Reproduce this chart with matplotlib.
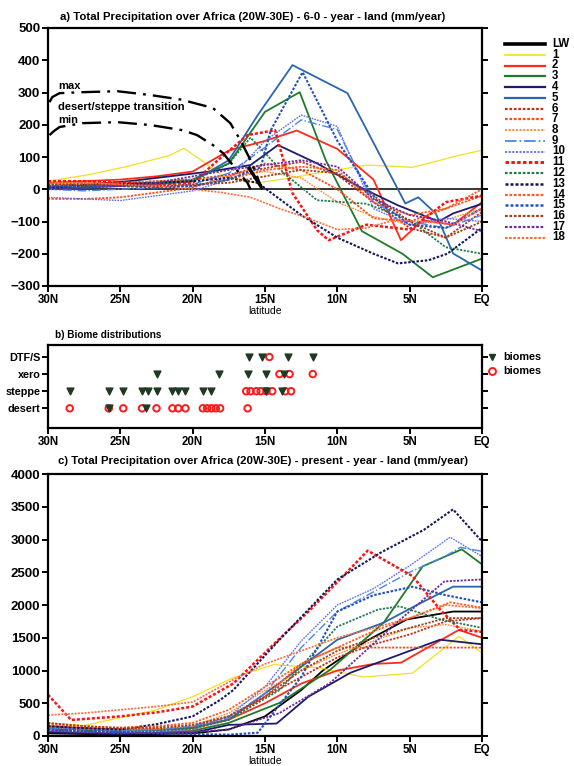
import numpy as np
import matplotlib
matplotlib.use("Agg")
import matplotlib.pyplot as plt
from matplotlib.lines import Line2D

plt.rcParams['font.family'] = ['Liberation Sans', 'DejaVu Sans']
plt.rcParams['font.weight'] = 'bold'

# ---------------- data ----------------
names = ['LW', '1', '2', '3', '4', '5', '6', '7', '8', '9',
         '10', '11', '12', '13', '14', '15', '16', '17', '18']
tick_pos = [30, 25, 20, 15, 10, 5, 0]
tick_lab = ['30N', '25N', '20N', '15N', '10N', '5N', 'EQ']

# a) 6-0 ka anomaly (mm/year), one lat list and one value list per model
anom_lats = [
    [16.1, 15.3],
    [30, 27.2, 24.4, 21.6, 20.6, 19.4, 17.9, 15.5, 13.2, 10.8, 7.9, 4.8, 1.5, 0],
    [30, 27.5, 25, 22.5, 20, 17.5, 15, 12.8, 10, 7.5, 5.6, 4.1, 2, 0],
    [30, 27.5, 25, 22.5, 20, 17.5, 15, 12.6, 10.8, 8.3, 5.5, 3.4, 0],
    [30, 27.2, 24.4, 21.6, 18.8, 16, 14.1, 11.4, 8.6, 5.8, 3, 2, 0],
    [30, 27.5, 25, 22.5, 20, 17.5, 15.5, 13.1, 9.3, 5.3, 4.4, 3.2, 2.0, 0],
    [30, 27.5, 25, 22.5, 20, 17.5, 15, 12.5, 10, 7.5, 5, 2.5, 0],
    [30, 27.5, 25, 22.5, 20, 17.5, 15, 12.5, 10, 7.5, 5, 2.5, 0],
    [30, 27.5, 25, 22.5, 20, 17.5, 15, 12.5, 10, 7.5, 5, 2.5, 0],
    [30, 27.5, 25, 22.5, 20, 17.5, 15, 12.5, 10, 7.5, 5, 2.5, 0],
    [30, 27.5, 25, 22.5, 20, 17.5, 15, 12.5, 10, 7.5, 5, 2.5, 0],
    [30, 27.5, 25, 22.5, 20, 18, 16.2, 14.3, 13.1, 11.4, 10.6, 8, 5, 2.5, 0],
    [30, 27.5, 25, 22.5, 20, 17.5, 16, 13.7, 11.4, 8, 5, 2.5, 0],
    [30, 27.5, 25, 22.5, 20, 17.5, 15.5, 12.5, 10, 7.5, 5.8, 3.7, 2.4, 0],
    [30, 27.5, 25, 22.5, 20, 17.5, 15, 12.5, 10, 7.5, 5, 2.5, 0],
    [30, 27.5, 25, 22.5, 20, 17.5, 15.3, 14.6, 12.4, 10, 7.3, 5, 2.5, 0],
    [30, 27.5, 25, 22.5, 20, 17.5, 15, 12.5, 10, 7.5, 5, 2.5, 0],
    [30, 27.5, 25, 22.5, 20, 17.5, 15, 12.5, 10, 7.5, 5, 2.5, 0],
    [30, 27.5, 25, 22.5, 20, 18, 16, 14, 12, 10, 8, 6, 4, 2, 0],
]
anom_vals = [
    [65, 10],
    [25, 45, 72, 105, 127, 90, 40, 20, 35, 55, 75, 68, 106, 121],
    [20, 25, 30, 40, 55, 120, 150, 182, 125, 30, -158, -96, -110, -40],
    [10, 12, 15, 20, 30, 80, 240, 301, 90, -130, -200, -273, -215],
    [10, 15, 25, 40, 55, 75, 137, 80, 10, -50, -100, -75, -45],
    [5, 5, 10, 15, 25, 90, 230, 385, 298, -44, -25, -75, -199, -252],
    [15, 15, 20, 25, 30, 45, 65, 85, 45, -40, -120, -150, -70],
    [-30, -30, -25, -10, 5, 40, 80, 60, 0, -90, -100, -60, -20],
    [10, 15, 20, 25, 30, 40, 55, 35, -40, -85, -110, -95, -60],
    [0, -5, 0, 5, 15, 50, 130, 215, 185, -40, -100, -120, -80],
    [-25, -30, -35, -20, -5, 30, 150, 230, 195, -60, -110, -90, -100],
    [25, 25, 20, 15, 20, 100, 168, 183, -12, -127, -158, -110, -125, -40, -20],
    [5, 10, 15, 20, 25, 80, 160, 50, -34, -45, -95, -180, -200],
    [5, 10, 15, 20, 25, 35, 20, -80, -150, -200, -230, -220, -200, -120],
    [20, 20, 15, 10, 10, 30, 60, 70, 60, -40, -80, -60, 0],
    [10, 10, 10, 5, 10, 30, 68, 183, 363, 150, -34, -110, -120, -60],
    [15, 15, 10, 10, 15, 20, 40, 60, 50, -20, -100, -150, -100],
    [0, 5, 10, 20, 40, 60, 75, 90, 70, -30, -80, -100, -130],
    [20, 20, 15, 10, 0, -10, -25, -60, -90, -125, -120, -95, -100, -110, -60],
]

# desert/steppe transition envelope
max_lat = [29.9, 29.7, 29.2, 27.6, 25.2, 22.9, 20.8, 18.6, 17.4, 16.7, 16.0, 15.6, 15.2]
max_val = [270, 286, 298, 301, 304, 292, 278, 252, 205, 152, 90, 45, 0]
min_lat = [29.9, 29.6, 29.2, 27.6, 25.2, 22.9, 20.7, 19.7, 18.6, 17.9, 17.1, 16.2, 16.0]
min_val = [168, 180, 193, 205, 208, 199, 183, 168, 137, 112, 68, 19, 0]

# b) biome distributions (0 desert, 1 steppe, 2 xero, 3 DTF/S)
biome_names = ['desert', 'steppe', 'xero', 'DTF/S']
obs_lat = [16.1, 15.2, 13.4, 11.7,
           22.5, 18.2, 16.2, 14.9, 13.7,
           28.5, 25.8, 24.8, 23.5, 23.1, 22.5, 21.4, 21.0, 20.5, 19.3, 18.7, 14.9, 13.8,
           25.8, 23.2]
obs_biome = [3, 3, 3, 3,
             2, 2, 2, 2, 2,
             1, 1, 1, 1, 1, 1, 1, 1, 1, 1, 1, 1, 1,
             0, 0]
sim_lat = [14.7,
           14.0, 13.3, 11.7,
           16.3, 16.0, 15.6, 15.3, 14.9, 14.5, 13.6, 13.2,
           28.5, 25.8, 24.8, 23.5, 22.5, 21.4, 21.0, 20.5, 19.3, 19.0, 18.7, 18.4, 18.1, 16.2]
sim_biome = [3,
             2, 2, 2,
             1, 1, 1, 1, 1, 1, 1, 1,
             0, 0, 0, 0, 0, 0, 0, 0, 0, 0, 0, 0, 0, 0]

# c) present-day precipitation (mm/year)
pres_lats = [
    [30, 27.5, 25, 22.5, 20, 17.5, 15, 12.5, 11, 8, 5.2, 2, 0],
    [30, 27.5, 25, 22.5, 20, 17.2, 14.4, 11.2, 8.2, 4.8, 1.6, 0],
    [30, 27.5, 25, 22.5, 20, 17.5, 15, 12.5, 10, 7.5, 5.6, 1.6, 0],
    [30, 27.5, 25, 22.5, 20, 17.5, 14, 10.5, 6.8, 4.1, 1.4, 0],
    [30, 27.5, 25, 22.5, 20, 17.5, 14.2, 12, 9.1, 5, 2.9, 0],
    [30, 27.5, 25, 22.5, 20, 17.5, 14, 10, 6.8, 4.5, 2, 0],
    [30, 27.5, 25, 22.5, 20, 17.5, 15, 12.5, 10, 7.5, 5, 2.5, 0],
    [30, 27.5, 25, 22.5, 20, 17.5, 15, 12.5, 10, 7.5, 5, 2.5, 0],
    [30, 27.5, 25, 22.5, 20, 17.5, 15, 12.5, 10, 7.5, 5, 2.5, 0],
    [30, 27.5, 25, 22.5, 20, 17.5, 15, 12.5, 10, 7.5, 5, 2.5, 1.5, 0],
    [30, 27.5, 25, 22.5, 20, 17.5, 15, 12.5, 10, 7.5, 5, 2.2, 0],
    [30, 28.4, 25, 22.5, 20, 17.2, 14.4, 12, 10, 7.9, 4.8, 2.9, 1.5, 0],
    [30, 27.5, 25, 22.5, 20, 17.5, 14, 10, 7.2, 5.7, 2.9, 0],
    [30, 27.5, 25, 22.5, 20, 18.1, 17.2, 14, 10, 7, 4, 2, 0],
    [30, 27.5, 25, 22.5, 20, 17.5, 15, 12.5, 10, 7.5, 5, 2.2, 0],
    [30, 27.5, 25, 22.5, 20, 17.5, 15.5, 12.5, 10, 7.5, 4.8, 2.5, 0],
    [30, 27.5, 25, 22.5, 20, 17.5, 15, 12.5, 10, 7.5, 5, 2.5, 0],
    [30, 27.5, 25, 22.5, 20, 17.5, 14, 10.5, 5.9, 2.6, 0],
    [30, 27.5, 25, 22.5, 20, 17.2, 15, 12.5, 10, 7.5, 5, 2.5, 0],
]
pres_vals = [
    [40, 30, 20, 30, 40, 100, 300, 700, 1000, 1450, 1780, 1900, 1900],
    [200, 160, 280, 400, 600, 890, 1090, 1040, 900, 960, 1520, 1270],
    [150, 120, 100, 100, 130, 250, 500, 800, 1000, 1100, 1120, 1620, 1500],
    [60, 50, 40, 50, 80, 200, 505, 1010, 1730, 2590, 2850, 2620],
    [60, 40, 30, 40, 50, 170, 190, 600, 965, 1300, 1470, 1400],
    [120, 100, 80, 90, 120, 250, 810, 1470, 1730, 2000, 2280, 2280],
    [150, 120, 100, 110, 150, 300, 600, 900, 1200, 1400, 1550, 1750, 1800],
    [100, 80, 60, 70, 100, 250, 600, 1100, 1350, 1350, 1350, 1350, 1350],
    [120, 100, 90, 100, 150, 350, 700, 1000, 1250, 1450, 1650, 1700, 1600],
    [120, 100, 80, 90, 150, 280, 650, 1350, 1900, 2200, 2500, 2750, 2880, 2820],
    [80, 60, 50, 60, 100, 300, 750, 1450, 2000, 2250, 2600, 3035, 2740],
    [630, 245, 300, 360, 450, 800, 1400, 1900, 2350, 2830, 2440, 1930, 1620, 1590],
    [100, 80, 60, 80, 120, 250, 700, 1670, 1930, 1980, 1780, 1650],
    [150, 120, 100, 180, 300, 550, 700, 1470, 2390, 2800, 3150, 3460, 2970],
    [180, 150, 130, 150, 200, 400, 750, 1100, 1350, 1600, 1800, 2040, 1960],
    [100, 80, 60, 40, 30, 20, 50, 900, 1900, 2150, 2280, 2150, 2040],
    [200, 150, 120, 130, 170, 300, 600, 1000, 1300, 1500, 1650, 1800, 1800],
    [80, 60, 40, 50, 60, 100, 350, 810, 1730, 2360, 2390],
    [320, 350, 400, 450, 520, 860, 1100, 1300, 1500, 1650, 1800, 2000, 1950],
]

# ---------------- styles ----------------
dot = (0, (1.2, 0.8))
colors = ['black', '#f2e020', '#ff2a1a', '#1f7a2a', '#1c1c6a', '#2a66b0',
          '#b8321e', '#ff4a10', '#ff8a30', '#4a86e8', '#5a6ef0', '#ff1010',
          '#207a50', '#15155e', '#ff5a20', '#2050c0', '#a0401a', '#6a2aa0',
          '#ff6a3a']
styles = ['-', '-', '-', '-', '-', '-', dot, dot, dot, '-.', dot, dot,
          dot, dot, dot, dot, dot, dot, dot]
widths = [2.0, 0.9, 1.3, 1.3, 1.3, 1.3, 1.3, 1.3, 1.0, 1.0, 1.0, 1.8,
          1.3, 1.5, 1.3, 1.5, 1.3, 1.3, 1.2]

fig = plt.figure(figsize=(5.74, 7.66), dpi=100)
W, H = 574, 766


def px_axes(x0, y0, x1, y1):
    return fig.add_axes([x0 / W, 1 - y1 / H, (x1 - x0) / W, (y1 - y0) / H])


def style_axes(ax):
    for s in ax.spines.values():
        s.set_linewidth(1.6)
    ax.tick_params(direction='out', length=4, width=1.4, right=True,
                   labelsize=9.5, pad=1.5)
    ax.set_xlim(30, 0)
    ax.set_xticks(tick_pos)
    ax.set_xticklabels(tick_lab, fontsize=8.3)


# ---- panel a
axa = px_axes(48, 28, 482, 286)
style_axes(axa)
axa.set_ylim(-300, 500)
axa.set_yticks(np.arange(-300, 501, 100))
axa.axhline(0, color='black', lw=1.1, zorder=1)
for i in range(1, len(names)):
    axa.plot(anom_lats[i], anom_vals[i], color=colors[i], ls=styles[i],
             lw=widths[i], zorder=2)
axa.plot(anom_lats[0], anom_vals[0], color='black', lw=2.4, zorder=3)
dash = (0, (8, 3, 1.2, 3))
axa.plot(max_lat, max_val, color='black', lw=1.7, ls=dash, zorder=4)
axa.plot(min_lat, min_val, color='black', lw=1.7, ls=dash, zorder=4)
axa.text(29.3, 312, 'max', fontsize=8)
axa.text(29.3, 246, 'desert/steppe transition', fontsize=8)
axa.text(29.3, 205, 'min', fontsize=8)
axa.set_xlabel('latitude', fontsize=7.5, labelpad=0)
axa.text(0.028, 1.03, 'a) Total Precipitation over Africa (20W-30E) - 6-0 - year - land (mm/year)',
         transform=axa.transAxes, fontsize=8.2)

# legend for panel a (drawn in figure pixels)
for i, nm in enumerate(names):
    yy = 1 - (44 + i * 10.75) / H
    fig.add_artist(Line2D([505 / W, 545 / W], [yy, yy], color=colors[i],
                          ls=styles[i], lw=widths[i] + (0.6 if i == 0 else 0.3)))
    fig.text(552 / W, yy, nm, fontsize=8.3, va='center', ha='left')

# ---- panel b
axb = px_axes(48, 345, 482, 428)
style_axes(axb)
axb.set_ylim(-1.15, 3.7)
axb.set_yticks([0, 1, 2, 3])
axb.set_yticklabels(biome_names, fontsize=7.8)
axb.scatter(sim_lat, sim_biome, marker='o', s=22, facecolors='none',
            edgecolors='#ff1a1a', linewidths=1.4, zorder=3)
axb.scatter(obs_lat, obs_biome, marker='v', s=24, color='#1f3a22', zorder=4)
axb.text(0.015, 1.08, 'b) Biome distributions', transform=axb.transAxes, fontsize=7.2)
fig.add_artist(Line2D([492 / W], [1 - 357 / H], marker='v', color='#1f3a22',
                      ms=5, ls='none'))
fig.add_artist(Line2D([492 / W], [1 - 371 / H], marker='o', mfc='none',
                      mec='#ff1a1a', mew=1.4, ms=5, ls='none'))
fig.text(503 / W, 1 - 357 / H, 'biomes', fontsize=7.8, va='center')
fig.text(503 / W, 1 - 371 / H, 'biomes', fontsize=7.8, va='center')

# ---- panel c
axc = px_axes(48, 474, 482, 736)
style_axes(axc)
axc.set_ylim(0, 4000)
axc.set_yticks(np.arange(0, 4001, 500))
for i in range(len(names)):
    axc.plot(pres_lats[i], pres_vals[i], color=colors[i], ls=styles[i],
             lw=widths[i] if i else 1.3, zorder=2)
axc.set_xlabel('latitude', fontsize=7.5, labelpad=0)
axc.text(0.023, 1.04, 'c) Total Precipitation over Africa (20W-30E) - present - year - land (mm/year)',
         transform=axc.transAxes, fontsize=8.2)

fig.savefig('out.png', dpi=100)
